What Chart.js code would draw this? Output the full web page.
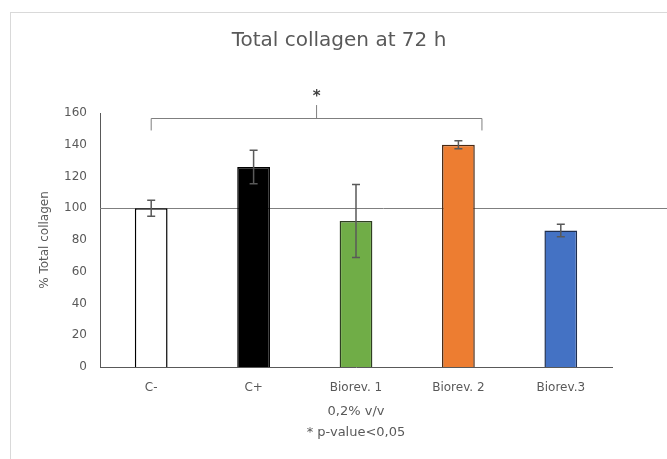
<!DOCTYPE html>
<html>
<head>
<meta charset="utf-8">
<script src="https://cdn.jsdelivr.net/npm/chart.js@4/dist/chart.umd.min.js"></script>
<style>
  html, body { margin: 0; padding: 0; background: #fff; overflow: hidden; }
  #frame {
    position: absolute; left: 10px; top: 12px;
    width: 700px; height: 500px;
    border: 1px solid #d9d9d9;
  }
  #wrap { position: absolute; left: 0; top: 0; width: 667px; height: 459px; }
</style>
</head>
<body>
<div id="frame"></div>
<div id="wrap"><canvas id="collagen-chart"></canvas></div>
<script>
const categories = ['C-', 'C+', 'Biorev. 1', 'Biorev. 2', 'Biorev.3'];
const means = [100, 126, 92, 140, 86];
const errors = [5, 10.5, 23, 2.5, 4];
const yTicks = [0, 20, 40, 60, 80, 100, 120, 140, 160];

// significance bracket between C- and Biorev. 2
const bracketFrom = 0;
const bracketTo = 3.23;
const bracketLevel = 157;
const bracketDrop = 149;
const controlLevel = 100;

const fillColors = ['#ffffff', '#000000', '#70ad47', '#ed7d31', '#4472c4'];
const edgeColors = ['#000000', '#000000', '#2f3f22', '#4a2a14', '#1f2f50'];

const grey = '#595959';
const face = 'DejaVu Sans';

const extras = {
  id: 'extras',
  beforeDatasetsDraw(chart) {
    const { ctx, chartArea } = chart;
    const y = chart.scales.y;
    // reference line at 100%, behind the bars
    const y100 = Math.round(y.getPixelForValue(controlLevel)) + 0.5;
    ctx.save();
    ctx.strokeStyle = '#7f7f7f';
    ctx.lineWidth = 1;
    ctx.beginPath();
    ctx.moveTo(chartArea.left, y100);
    ctx.lineTo(chart.width, y100);
    ctx.stroke();
    ctx.restore();
  },
  afterDatasetsDraw(chart) {
    const { ctx } = chart;
    const x = chart.scales.x;
    const y = chart.scales.y;
    ctx.save();

    // error bars
    ctx.strokeStyle = '#595959';
    ctx.lineWidth = 1.5;
    means.forEach((m, i) => {
      const cx = x.getPixelForValue(i);
      const top = y.getPixelForValue(m + errors[i]);
      const bot = y.getPixelForValue(m - errors[i]);
      ctx.beginPath();
      ctx.moveTo(cx, top); ctx.lineTo(cx, bot);
      ctx.moveTo(cx - 4, top); ctx.lineTo(cx + 4, top);
      ctx.moveTo(cx - 4, bot); ctx.lineTo(cx + 4, bot);
      ctx.stroke();
    });

    // bracket
    const xa = x.getPixelForValue(bracketFrom);
    const xb = x.getPixelForValue(bracketTo);
    const xm = (xa + xb) / 2;
    const yl = Math.round(y.getPixelForValue(bracketLevel)) + 0.5;
    const yd = y.getPixelForValue(bracketDrop);
    ctx.strokeStyle = '#7f7f7f';
    ctx.lineWidth = 1;
    ctx.beginPath();
    ctx.moveTo(xa, yd); ctx.lineTo(xa, yl); ctx.lineTo(xb, yl); ctx.lineTo(xb, yd);
    ctx.moveTo(xm, yl); ctx.lineTo(xm, y.getPixelForValue(165));
    ctx.stroke();

    ctx.fillStyle = '#404040';
    ctx.font = 'bold 15px "DejaVu Sans"';
    ctx.textAlign = 'center';
    ctx.textBaseline = 'middle';
    ctx.fillText('*', xm, y.getPixelForValue(170));
    ctx.restore();
  }
};

const config = {
  type: 'bar',
  data: {
    labels: categories,
    datasets: [{
      data: means,
      backgroundColor: fillColors,
      borderColor: edgeColors,
      borderWidth: 1.5,
      categoryPercentage: 1,
      barPercentage: 0.32,
    }],
  },
  options: {
    responsive: false,
    animation: false,
    layout: { padding: { left: 11, right: 0, top: 0, bottom: 0 } },
    plugins: {
      legend: { display: false },
      tooltip: { enabled: false },
      title: {
        display: true,
        text: 'Total collagen at 72 h',
        color: grey,
        font: { family: face, size: 20, weight: 'normal', lineHeight: 1.2 },
        padding: { top: 29, bottom: 60 },
      },
    },
    scales: {
      x: {
        grid: { display: false, drawTicks: false },
        border: { display: true, color: grey, width: 1 },
        ticks: { color: grey, font: { family: face, size: 12 }, padding: 14 },
        title: {
          display: true,
          text: ['0,2% v/v', '* p-value<0,05'],
          color: grey,
          font: { family: face, size: 13, lineHeight: 1.62 },
          padding: { top: 0, bottom: 16 },
        },
        afterFit(scale) { scale.height = 92; },
      },
      y: {
        min: 0,
        max: 160,
        afterBuildTicks(scale) { scale.ticks = yTicks.map(v => ({ value: v })); },
        grid: { display: false, drawTicks: false },
        border: { display: true, color: grey, width: 1 },
        ticks: { color: grey, font: { family: face, size: 12 }, padding: 13 },
        title: {
          display: true,
          text: '% Total collagen',
          color: grey,
          font: { family: face, size: 12, lineHeight: 1.2 },
          padding: { top: 27, bottom: 0 },
        },
        afterFit(scale) { scale.width = 89; },
      },
      // empty right-hand strip so the plot ends where the reference does
      side: {
        type: 'linear',
        position: 'right',
        display: true,
        grid: { display: false, drawTicks: false },
        border: { display: false },
        ticks: { display: false },
        afterFit(scale) { scale.width = 55; },
      },
    },
  },
  plugins: [extras],
};

const canvas = document.getElementById('collagen-chart');
canvas.width = 667;
canvas.height = 459;
new Chart(canvas, config);
</script>
</body>
</html>
